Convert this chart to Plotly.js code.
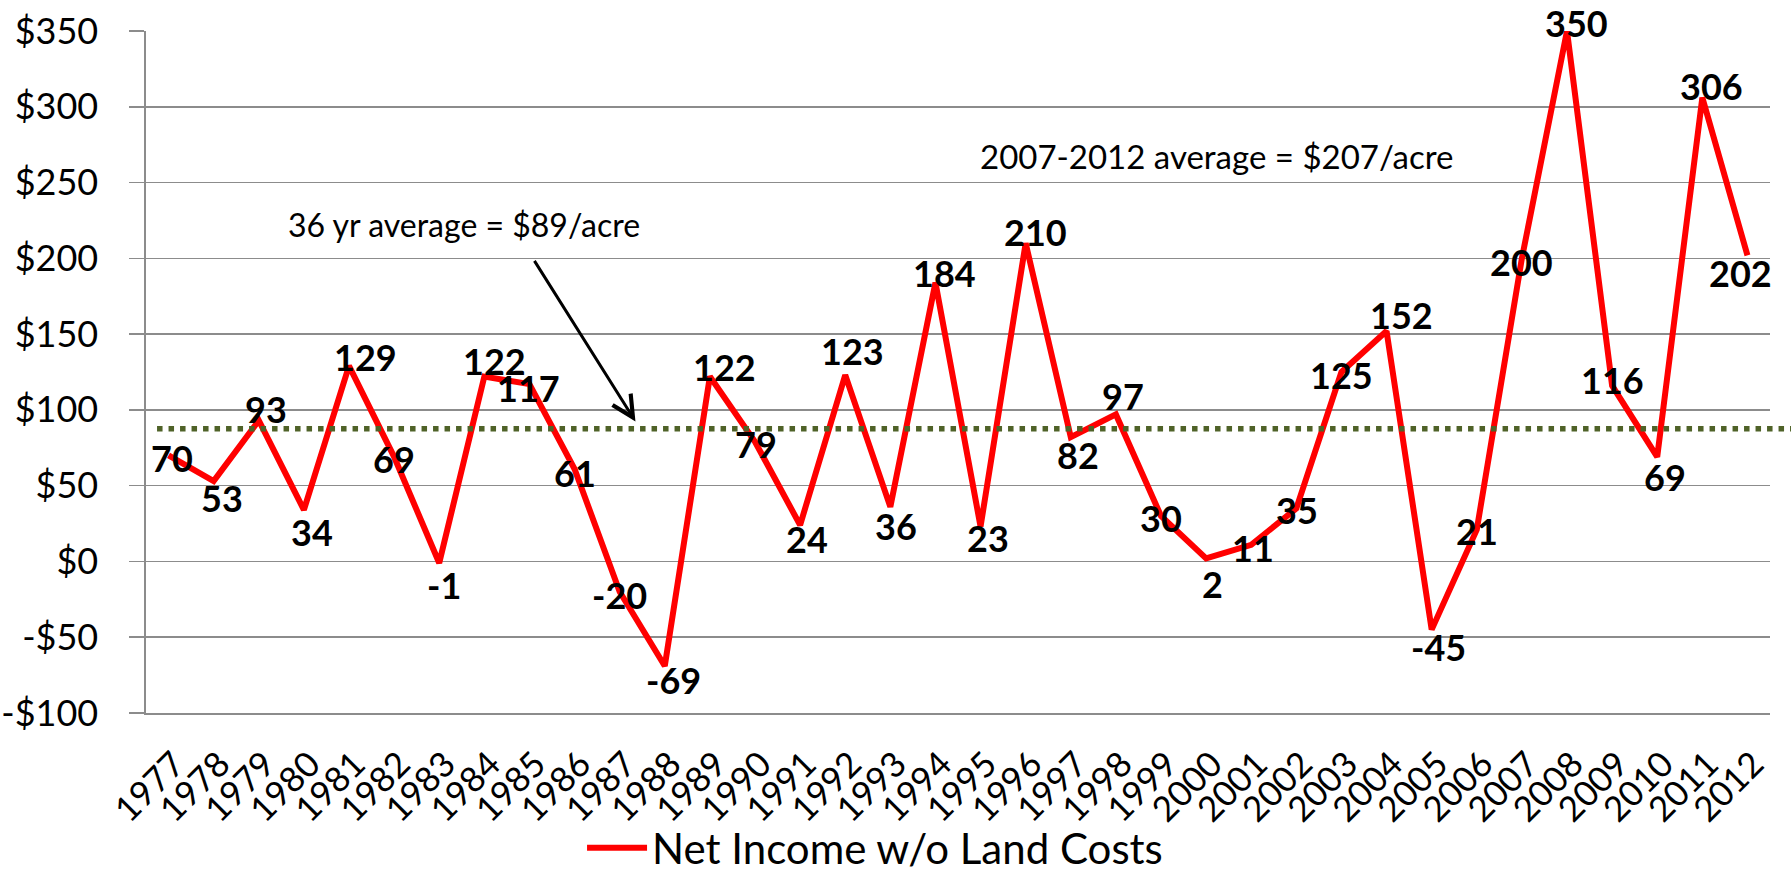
<!DOCTYPE html>
<html>
<head>
<meta charset="utf-8">
<script src="https://cdn.plot.ly/plotly-3.0.1.min.js"></script>
<style>html,body{margin:0;padding:0;background:#ffffff;}</style>
</head>
<body>
<div id="chart" style="width:1791px;height:872px;"></div>
<script>
// ---- data ----
const years = ['1977','1978','1979','1980','1981','1982','1983','1984','1985','1986','1987','1988',
  '1989','1990','1991','1992','1993','1994','1995','1996','1997','1998','1999','2000',
  '2001','2002','2003','2004','2005','2006','2007','2008','2009','2010','2011','2012'];
const netIncome = [70,53,93,34,129,69,-1,122,117,61,-20,-69,
  122,79,24,123,36,184,23,210,82,97,30,2,
  11,35,125,152,-45,21,200,350,116,69,306,202];
const seriesName = 'Net Income w/o Land Costs';
const averageLevel = 87.5;
const avgNote = '36 yr average = $89/acre';
const recentNote = '2007-2012 average = $207/acre';
const yTickVals = [-100,-50,0,50,100,150,200,250,300,350];
const yTickText = ['-$100','-$50','$0','$50','$100','$150','$200','$250','$300','$350'];

// ---- label nudges (px, right / down) ----
const labelDx = [3,8,7,8,16,0,5,10,-1,0,0,9, 15,1,7,7,6,9,7,10,7,7,0,6, 2,1,0,15,7,0,0,9,0,8,9,-7];
const labelDy = [3,17,-12,22,-9,2,22,-16,4,4,3,14, -10,2,14,-24,19,-10,11,-11,18,-18,2,26, 3,2,3,-16,17,1,4,-8,-6,20,-12,18];

const FONT = 'Lato, "Open Sans", sans-serif';
const GRID = '#8c8c8c';

const trace = {
  type: 'scatter',
  mode: 'lines',
  x: years,
  y: netIncome,
  name: seriesName,
  line: {color: '#ff0000', width: 6},
  showlegend: true,
  hoverinfo: 'skip'
};

const annotations = netIncome.map((v, i) => ({
  x: i, y: v, xref: 'x', yref: 'y',
  text: String(v), showarrow: false,
  xanchor: 'center', yanchor: 'middle',
  xshift: labelDx[i], yshift: -labelDy[i],
  font: {family: FONT, size: 36, color: '#000000', weight: 700}
}));

annotations.push({
  xref: 'paper', yref: 'paper', x: 0.1958, y: 0.717,
  xanchor: 'center', yanchor: 'middle', showarrow: false,
  text: avgNote, font: {family: FONT, size: 32, color: '#000000'}
});
annotations.push({
  xref: 'paper', yref: 'paper', x: 0.6589, y: 0.8167,
  xanchor: 'center', yanchor: 'middle', showarrow: false,
  text: recentNote, font: {family: FONT, size: 33, color: '#000000'}
});
// arrow pointing at the average line
annotations.push({
  xref: 'x', yref: 'y', x: 10.35, y: 92.4,
  axref: 'x', ayref: 'y', ax: 8.09, ay: 199.3,
  text: '', showarrow: true, arrowhead: 5, arrowsize: 1.4,
  arrowwidth: 3, arrowcolor: '#000000', standoff: 0, startstandoff: 0
});

const layout = {
  width: 1791, height: 872,
  margin: {l: 146, r: 21, t: 31, b: 159, pad: 0, autoexpand: false},
  paper_bgcolor: '#ffffff', plot_bgcolor: '#ffffff',
  font: {family: FONT, color: '#000000'},
  showlegend: true,
  legend: {
    orientation: 'h', x: 0.2685, xanchor: 'left', y: -0.198, yanchor: 'middle',
    font: {family: FONT, size: 42, color: '#000000'},
    itemwidth: 60, bgcolor: 'rgba(0,0,0,0)', borderwidth: 0
  },
  xaxis: {
    type: 'category', categoryorder: 'array', categoryarray: years,
    range: [-0.5, years.length - 0.5],
    tickmode: 'linear', dtick: 1,
    tickangle: -45,
    tickfont: {family: FONT, size: 35, color: '#000000'},
    ticks: '', showgrid: false, zeroline: false,
    showline: true, linecolor: GRID, linewidth: 1.6,
    ticklabelstandoff: 15, ticklabelshift: 6,
    automargin: false, fixedrange: true
  },
  yaxis: {
    range: [-100, 350],
    tickmode: 'array', tickvals: yTickVals, ticktext: yTickText,
    tickfont: {family: FONT, size: 36, color: '#000000'},
    ticks: 'outside', ticklen: 15, tickwidth: 1.6, tickcolor: GRID,
    showgrid: true, gridcolor: GRID, gridwidth: 1.6,
    showline: true, linecolor: GRID, linewidth: 1.6,
    zeroline: false, ticklabelstandoff: 24,
    automargin: false, fixedrange: true
  },
  shapes: [{
    type: 'line', xref: 'paper', yref: 'y',
    x0: 0.0068, x1: 1.013, y0: averageLevel, y1: averageLevel,
    line: {color: '#4f6228', width: 5.5, dash: '5.5px,6px'},
    layer: 'above'
  }],
  annotations: annotations
};

Plotly.newPlot('chart', [trace], layout, {staticPlot: true, displayModeBar: false});
</script>
</body>
</html>
